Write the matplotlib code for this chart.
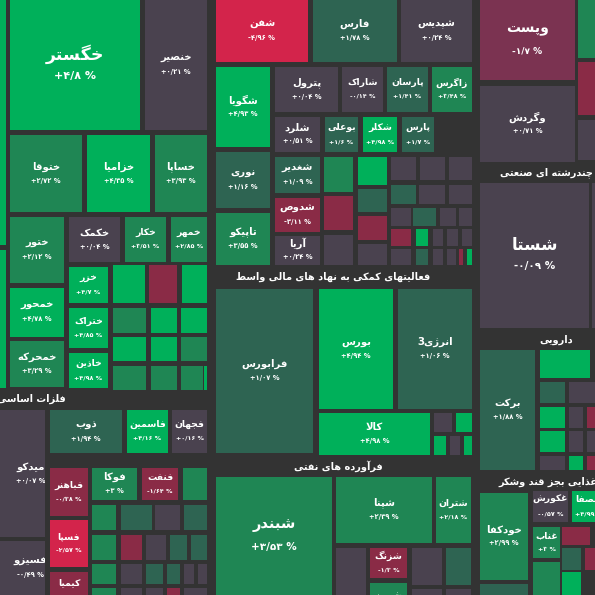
import matplotlib
matplotlib.use("Agg")
import matplotlib.pyplot as plt
from matplotlib.patches import Rectangle
from matplotlib.transforms import Bbox

# ---------- Arabic/Persian shaping (presentation forms) ----------
FORMS = {
 'ا':(0xFE8D,0xFE8E,None,None),'آ':(0xFE81,0xFE82,None,None),
 'ب':(0xFE8F,0xFE90,0xFE91,0xFE92),'پ':(0xFB56,0xFB57,0xFB58,0xFB59),
 'ت':(0xFE95,0xFE96,0xFE97,0xFE98),'ث':(0xFE99,0xFE9A,0xFE9B,0xFE9C),
 'ج':(0xFE9D,0xFE9E,0xFE9F,0xFEA0),'چ':(0xFB7A,0xFB7B,0xFB7C,0xFB7D),
 'ح':(0xFEA1,0xFEA2,0xFEA3,0xFEA4),'خ':(0xFEA5,0xFEA6,0xFEA7,0xFEA8),
 'د':(0xFEA9,0xFEAA,None,None),'ذ':(0xFEAB,0xFEAC,None,None),
 'ر':(0xFEAD,0xFEAE,None,None),'ز':(0xFEAF,0xFEB0,None,None),
 'ژ':(0xFB8A,0xFB8B,None,None),'س':(0xFEB1,0xFEB2,0xFEB3,0xFEB4),
 'ش':(0xFEB5,0xFEB6,0xFEB7,0xFEB8),'ص':(0xFEB9,0xFEBA,0xFEBB,0xFEBC),
 'ض':(0xFEBD,0xFEBE,0xFEBF,0xFEC0),'ط':(0xFEC1,0xFEC2,0xFEC3,0xFEC4),
 'ع':(0xFEC9,0xFECA,0xFECB,0xFECC),'غ':(0xFECD,0xFECE,0xFECF,0xFED0),
 'ف':(0xFED1,0xFED2,0xFED3,0xFED4),'ق':(0xFED5,0xFED6,0xFED7,0xFED8),
 'ک':(0xFB8E,0xFB8F,0xFB90,0xFB91),'گ':(0xFB92,0xFB93,0xFB94,0xFB95),
 'ل':(0xFEDD,0xFEDE,0xFEDF,0xFEE0),'م':(0xFEE1,0xFEE2,0xFEE3,0xFEE4),
 'ن':(0xFEE5,0xFEE6,0xFEE7,0xFEE8),'و':(0xFEED,0xFEEE,None,None),
 'ه':(0xFEE9,0xFEEA,0xFEEB,0xFEEC),'ی':(0xFBFC,0xFBFD,0xFBFE,0xFBFF),
 'ئ':(0xFE89,0xFE8A,0xFE8B,0xFE8C),
 'LA':(0xFEFB,0xFEFC,None,None),
}

def shape(s):
    chars = []
    i = 0
    while i < len(s):
        if s[i] == 'ل' and i + 1 < len(s) and s[i+1] == 'ا':
            chars.append('LA'); i += 2
        else:
            chars.append(s[i]); i += 1
    out = []
    for i, c in enumerate(chars):
        if c not in FORMS:
            out.append(c); continue
        f = FORMS[c]
        prev = chars[i-1] if i > 0 else None
        nxt = chars[i+1] if i + 1 < len(chars) else None
        pj = prev in FORMS and FORMS[prev][2] is not None
        nj = nxt in FORMS and f[2] is not None
        if pj and nj: cp = f[3]
        elif pj: cp = f[1]
        elif nj: cp = f[2]
        else: cp = f[0]
        out.append(chr(cp))
    return ''.join(out)[::-1]

# ---------- data ----------
tile_names = ['خگستر','خنصیر','ختوقا','خزامیا','خساپا','ختور','خکمک','خکار','خمهر',
              'خزر','خمحور','ختراک','خمحرکه','خاذین',
              'میدکو','فسیزو','ذوب','فاسمین','فجهان','فباهنر','فوکا','فنفت','فسپا','کیمیا',
              'شفن','فارس','شپدیس','شگویا','نوری','تاپیکو','پترول','شاراک','پارسان','زاگرس',
              'شلرد','بوعلی','شکلر','پارس','شغدیر','شدوص','آریا',
              'فرابورس','بورس','انرژی3','کالا',
              'شبندر','شپنا','شتران','شزنگ','شبریز',
              'وپست','وگردش','شستا','برکت','خودکفا','غکورش','شصفا','غناب']
tile_values = ['+۴/۸ %','+۰/۲۱ %','+۲/۷۲ %','+۴/۳۵ %','+۳/۹۳ %','+۲/۱۲ %','+۰/۰۴ %','+۳/۵۱ %','+۲/۸۵ %',
               '+۴/۷ %','+۴/۷۸ %','+۴/۸۵ %','+۳/۲۹ %','+۴/۹۸ %',
               '+۰/۰۷ %','-۰/۴۹ %','+۱/۹۴ %','+۴/۱۶ %','+۰/۱۶ %','-۰/۳۸ %','+۳ %','-۱/۶۴ %','-۲/۵۷ %','',
               '-۴/۹۶ %','+۱/۷۸ %','+۰/۲۴ %','+۴/۹۳ %','+۱/۱۶ %','+۳/۵۵ %','+۰/۰۴ %','-۰/۱۴ %','+۱/۴۱ %','+۳/۴۸ %',
               '+۰/۵۱ %','+۱/۶ %','+۴/۹۸ %','+۱/۷ %','+۱/۰۹ %','-۳/۱۱ %','+۰/۲۴ %',
               '+۱/۰۷ %','+۴/۹۴ %','+۱/۰۶ %','+۴/۹۸ %',
               '+۳/۵۳ %','+۲/۳۹ %','+۲/۱۸ %','-۱/۳ %','',
               '-۱/۷ %','+۰/۷۱ %','-۰/۰۹ %','+۱/۸۸ %','+۲/۹۹ %','-۰/۵۷ %','+۴/۹۹ %','+۳ %']
tile_colors = ['G','N','M','G','M','M','N','M','M',
               'G','G','G','M','G',
               'N','N','D','G','N','K','M','K','R','K',
               'R','D','N','G','D','M','N','N','D','M',
               'N','D','G','D','D','K','N',
               'D','G','D','G',
               'M','M','M','K','M',
               'P','N','N','D','M','N','G','M']
# layout (x0, y0, x1, y1) in pixels
tile_rects = [(10,0,140,130),(145,0,207,130),(10,135,82,212),(87,135,150,212),(155,135,207,212),
              (10,217,64,283),(69,217,120,262),(125,217,166,262),(171,217,207,262),
              (69,267,108,303),(10,288,64,337),(69,308,108,348),(10,341,64,387),(69,353,108,388),
              (0,410,45,537),(0,541,45,595),(50,410,122,453),(127,410,168,453),(172,410,207,453),
              (50,468,88,516),(92,468,137,500),(142,468,178,500),(50,520,88,567),(50,572,88,595),
              (216,0,308,62),(313,0,397,62),(401,0,472,62),(216,67,270,147),(216,152,270,208),
              (216,213,270,265),(275,67,338,112),(342,67,383,112),(387,67,428,112),(432,67,472,112),
              (275,117,320,152),(325,117,358,152),(363,117,397,152),(402,117,434,152),
              (275,157,320,193),(275,198,320,232),(275,236,320,265),
              (216,289,313,453),(319,289,393,409),(398,289,472,409),(319,413,430,455),
              (216,477,332,595),(336,477,432,543),(436,477,471,543),(370,548,407,578),(370,583,407,595),
              (480,0,575,80),(480,86,575,162),(480,183,589,328),(480,350,535,470),(480,493,528,580),
              (533,491,568,522),(572,491,595,522),(533,527,560,558)]
text_anchor = {'میدکو':(8,0),'فسیزو':(8,0),'شصفا':(6,0),'شبریز':(0,14),'کیمیا':(0,6)}
big_font = {'خگستر':(12.5,8),'شستا':(12,7.5),'شبندر':(10.5,7.5),'وپست':(10,6.5)}

small_rects = [(0,0,6,245),(0,250,6,388),
               (113,265,145,303),(149,265,177,303),(182,265,207,303),
               (113,308,146,333),(151,308,177,333),(181,308,207,333),
               (113,337,146,361),(151,337,177,361),(181,337,207,361),
               (113,366,146,390),(151,366,177,390),(181,366,203,390),(204,366,207,390),
               (183,468,207,500),
               (92,505,116,530),(121,505,152,530),(155,505,180,530),(184,505,207,530),
               (92,535,116,560),(121,535,142,560),(146,535,166,560),(170,535,187,560),(191,535,207,560),
               (92,564,116,584),(121,564,142,584),(146,564,163,584),(167,564,180,584),(184,564,194,584),(198,564,207,584),
               (92,588,116,595),(121,588,142,595),(146,588,163,595),(167,588,180,595),(184,588,207,595),
               (324,157,353,192),(358,157,387,185),(391,157,416,180),(420,157,445,180),(449,157,472,180),
               (324,196,353,230),(358,189,387,212),(358,216,387,240),(324,235,353,265),(358,244,387,265),
               (391,185,416,204),(419,185,445,204),(449,185,472,204),
               (391,208,411,226),(413,208,436,226),(440,208,456,226),(459,208,472,226),
               (391,229,411,246),(416,229,428,246),(433,229,443,246),(447,229,458,246),(462,229,472,246),
               (391,249,411,265),(416,249,428,265),(433,249,443,265),(447,249,456,265),(459,249,463,265),(467,249,472,265),
               (434,413,452,432),(456,413,472,432),(434,436,446,455),(450,436,460,455),(464,436,472,455),
               (336,548,366,595),(412,548,442,585),(446,548,471,585),(412,589,442,595),(446,589,471,595),
               (578,0,595,58),(578,62,595,115),(578,120,595,160),(592,183,595,328),
               (540,350,590,378),(540,382,565,403),(569,382,590,403),(540,407,565,428),(569,407,583,428),
               (540,431,565,452),(569,431,583,452),(540,456,565,470),(569,456,583,470),
               (587,382,595,403),(587,407,595,428),(587,431,595,452),(587,456,595,470),
               (562,527,590,545),(562,548,581,570),(562,572,581,595),(585,548,595,570),
               (533,562,560,595),(480,584,528,595)]
small_colors = ['G','G',
                'G','K','G','M','G','G','G','G','M','M','M','M','G',
                'M',
                'M','D','N','D','M','K','N','D','D','M','N','D','D','N','N','M','N','N','K','N',
                'M','G','N','N','N','K','D','K','N','N','D','N','N',
                'N','D','N','N','K','G','N','N','N','N','D','N','N','K','G',
                'N','G','G','N','G',
                'N','N','D','N','N',
                'M','K','N','N',
                'G','D','N','G','N','G','N','N','G','N','K','N','K',
                'K','D','G','K','M','D']

headers = ['فلزات اساسی','فعالیتهای کمکی به نهاد های مالی واسط','فرآورده های نفتی',
           'چندرشته ای صنعتی','دارویی','غذایی بجز قند وشکر']
header_rects = [(0,390,210,408),(212,266,475,287),(212,456,475,476),
                (478,163,595,182),(478,330,595,349),(478,472,595,491)]
header_text_right = [66, 430, 383, 593, 573, 597]

PAL = {'G':'#00b05a','M':'#1f8654','D':'#2e6452','N':'#4a424f','R':'#d3244b',
       'K':'#8a2b46','P':'#7b3351'}
BG = '#333333'

fig = plt.figure(figsize=(5.95, 5.95), dpi=100, facecolor=BG)
ax = fig.add_axes([0, 0, 1, 1])
ax.set_xlim(0, 595); ax.set_ylim(595, 0); ax.axis('off')
ax.set_facecolor(BG)
FONT = 'DejaVu Sans'

def clipbox(x0, y0, x1, y1):
    p = ax.transData.transform([(x0, y0), (x1, y1)])
    return Bbox.from_extents(min(p[:, 0]), min(p[:, 1]), max(p[:, 0]), max(p[:, 1]))

for (x0, y0, x1, y1), c in zip(small_rects, small_colors):
    ax.add_patch(Rectangle((x0, y0), x1-x0, y1-y0, color=PAL[c], lw=0))

for name, val, c, (x0, y0, x1, y1) in zip(tile_names, tile_values, tile_colors, tile_rects):
    ax.add_patch(Rectangle((x0, y0), x1-x0, y1-y0, color=PAL[c], lw=0))
    dx, dy = text_anchor.get(name, (0, 0))
    cx, cy = (x0+x1)/2 + dx, (y0+y1)/2 + dy
    w = x1 - x0
    if name in big_font:
        fs1, fs2 = big_font[name]
    elif w < 45:
        fs1, fs2 = 6.7, 4.6
    else:
        fs1, fs2 = 7.3, 4.9
    off = 7 if fs1 < 9 else 11
    cb = clipbox(x0, y0, x1, y1)
    t1 = ax.text(cx, cy-off, shape(name), color='white', fontsize=fs1, fontweight='bold',
                 ha='center', va='center', family=FONT, clip_on=True)
    t1.set_clip_box(cb)
    if val:
        t2 = ax.text(cx, cy+off, val, color='white', fontsize=fs2, fontweight='bold',
                     ha='center', va='center', family=FONT, clip_on=True)
        t2.set_clip_box(cb)

for h, (x0, y0, x1, y1), xr in zip(headers, header_rects, header_text_right):
    t = ax.text(xr, (y0+y1)/2, shape(h), color='white', fontsize=7, fontweight='bold',
                ha='right', va='center', family=FONT, clip_on=True)
    t.set_clip_box(clipbox(x0, y0, x1, y1))

fig.savefig('out.png', dpi=100, facecolor=BG)
